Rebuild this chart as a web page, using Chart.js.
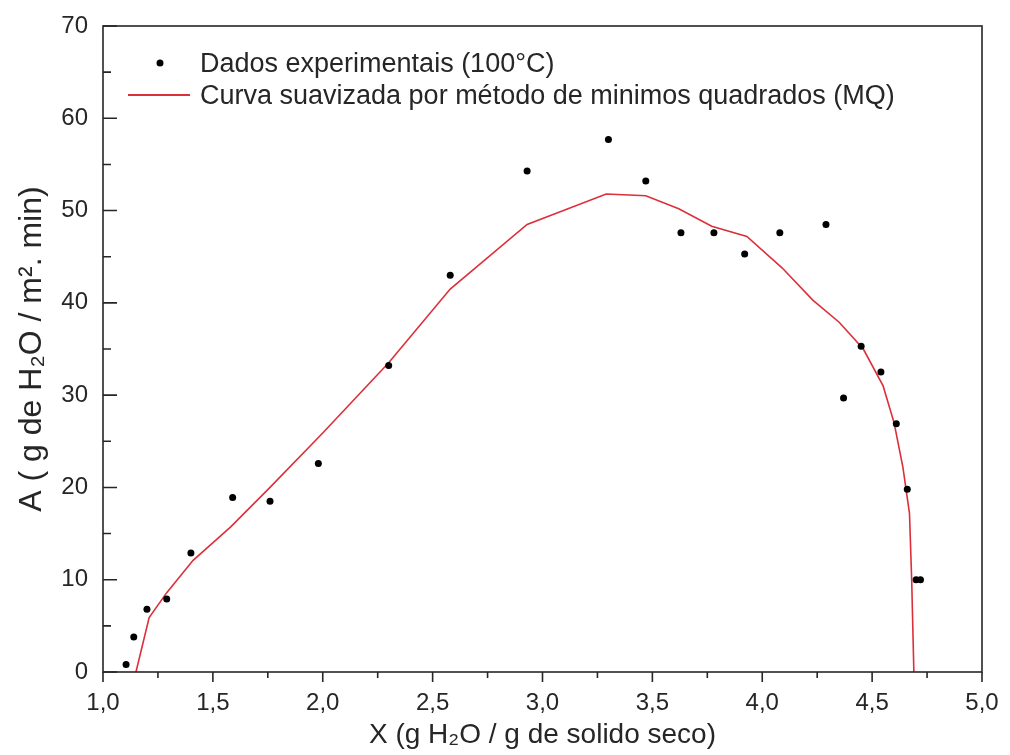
<!DOCTYPE html>
<html>
<head>
<meta charset="utf-8">
<script src="https://cdn.jsdelivr.net/npm/chart.js@4"></script>
<style>
  html, body { margin: 0; padding: 0; background: #fff; }
  #wrap { width: 1010px; height: 755px; }
</style>
</head>
<body>
<div id="wrap"><canvas id="chart"></canvas></div>
<script>
const expX = [1.105, 1.14, 1.20, 1.29, 1.40, 1.59, 1.76, 1.98, 2.30, 2.58, 2.93, 3.30, 3.47, 3.63, 3.78, 3.92, 4.08, 4.29, 4.37, 4.45, 4.54, 4.61, 4.66, 4.70, 4.72];
const expY = [0.8, 3.8, 6.8, 7.9, 12.9, 18.9, 18.5, 22.6, 33.2, 43.0, 54.3, 57.7, 53.2, 47.6, 47.6, 45.3, 47.6, 48.5, 29.7, 35.3, 32.5, 26.9, 19.8, 10.0, 10.0];

const fitX = [1.15, 1.21, 1.29, 1.41, 1.58, 1.76, 2.00, 2.30, 2.58, 2.93, 3.29, 3.47, 3.62, 3.77, 3.93, 4.09, 4.23, 4.35, 4.46, 4.55, 4.60, 4.64, 4.67, 4.68, 4.69];
const fitY = [0, 5.9, 8.6, 12.1, 15.7, 20.0, 25.9, 33.5, 41.5, 48.5, 51.8, 51.6, 50.2, 48.3, 47.2, 43.8, 40.3, 37.9, 35.0, 31.0, 27.0, 22.2, 17.2, 10.0, 0];

const xTicks = [1.0, 1.5, 2.0, 2.5, 3.0, 3.5, 4.0, 4.5, 5.0];
const yTicks = [0, 10, 20, 30, 40, 50, 60, 70];

const FONT = "'Liberation Sans', Arial, sans-serif";
const INK = "#262626";
const RED = "#dc2f3a";

// frame, tick marks (x outward, y inward) and the legend inside the plot
const frame = {
  id: "frame",
  afterDraw(chart) {
    const { ctx, chartArea: a, scales: { x, y } } = chart;
    ctx.save();
    ctx.strokeStyle = INK;
    ctx.lineWidth = 1.6;
    ctx.strokeRect(a.left, a.top, a.right - a.left, a.bottom - a.top);
    ctx.beginPath();
    for (let v = 1.0; v <= 5.001; v += 0.25) {
      const px = x.getPixelForValue(v);
      const major = Math.abs(v * 2 - Math.round(v * 2)) < 1e-6;
      ctx.moveTo(px, a.bottom);
      ctx.lineTo(px, a.bottom + (major ? 10 : 6));
    }
    for (let v = 0; v <= 70; v += 5) {
      const py = y.getPixelForValue(v);
      ctx.moveTo(a.left, py);
      ctx.lineTo(a.left + (v % 10 === 0 ? 14 : 8), py);
    }
    ctx.stroke();

    // legend
    const ds = chart.data.datasets;
    ctx.font = "27px " + FONT;
    ctx.fillStyle = INK;
    ctx.textBaseline = "alphabetic";
    ctx.fillText(ds[0].label, 200, 72);
    ctx.fillText(ds[1].label, 200, 104);
    ctx.beginPath();
    ctx.arc(160, 63, 3.5, 0, Math.PI * 2);
    ctx.fillStyle = "#000";
    ctx.fill();
    ctx.beginPath();
    ctx.strokeStyle = RED;
    ctx.lineWidth = 2;
    ctx.moveTo(128, 95);
    ctx.lineTo(190, 95);
    ctx.stroke();
    ctx.restore();
  }
};

const fmt = v => v.toFixed(1).replace(".", ",");

new Chart(document.getElementById("chart"), {
  type: "scatter",
  data: {
    datasets: [
      {
        label: "Dados experimentais (100°C)",
        data: expX.map((v, i) => ({ x: v, y: expY[i] })),
        pointRadius: 3.5,
        pointBackgroundColor: "#000",
        pointBorderWidth: 0,
        showLine: false,
      },
      {
        label: "Curva suavizada por método de minimos quadrados (MQ)",
        data: fitX.map((v, i) => ({ x: v, y: fitY[i] })),
        showLine: true,
        borderColor: RED,
        borderWidth: 1.6,
        pointRadius: 0,
        tension: 0,
      },
    ],
  },
  options: {
    responsive: true,
    maintainAspectRatio: false,
    animation: false,
    layout: { padding: { left: 0, right: 28, top: 26, bottom: 0 } },
    plugins: {
      legend: { display: false },
      tooltip: { enabled: false },
    },
    scales: {
      x: {
        type: "linear",
        min: 1.0,
        max: 5.0,
        afterBuildTicks: s => { s.ticks = xTicks.map(v => ({ value: v })); },
        afterFit: s => { s.height = 83; s.paddingLeft = 0; s.paddingRight = 0; },
        grid: { display: false, drawTicks: false },
        border: { display: false },
        ticks: {
          callback: v => fmt(v),
          color: INK,
          padding: 17,
          maxRotation: 0,
          font: { family: FONT, size: 24 },
        },
        title: {
          display: true,
          text: "X (g H₂O / g de solido seco)",
          color: INK,
          padding: { top: 0, bottom: 3 },
          font: { family: FONT, size: 28 },
        },
      },
      y: {
        type: "linear",
        min: 0,
        max: 70,
        afterBuildTicks: s => { s.ticks = yTicks.map(v => ({ value: v })); },
        afterFit: s => { s.width = 103; s.paddingTop = 0; s.paddingBottom = 0; },
        grid: { display: false, drawTicks: false },
        border: { display: false },
        ticks: {
          color: INK,
          padding: 15,
          font: { family: FONT, size: 24 },
        },
        title: {
          display: true,
          text: "A ( g de H₂O / m². min)",
          color: INK,
          padding: { top: 13, bottom: 0 },
          font: { family: FONT, size: 32 },
        },
      },
    },
  },
  plugins: [frame],
});
</script>
</body>
</html>
